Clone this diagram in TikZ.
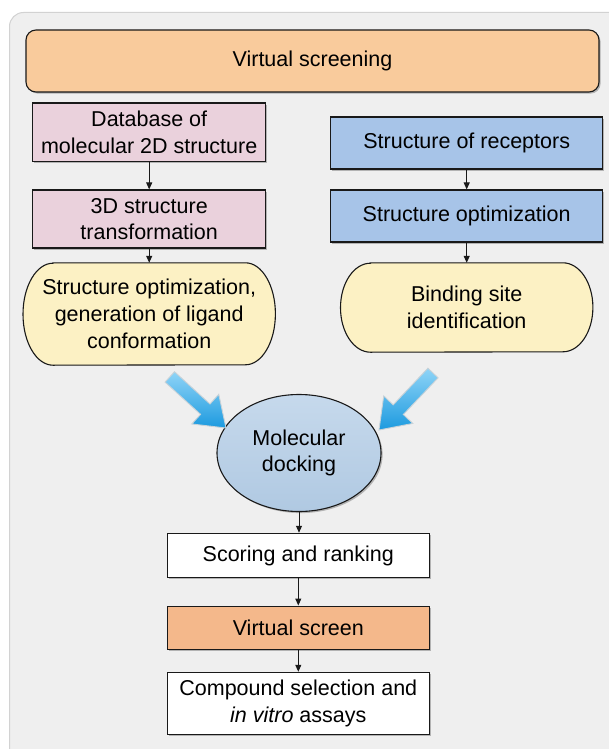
\documentclass[tikz,border=0pt]{standalone}
\usepackage{fontspec}
\setmainfont{Liberation Sans}
\usetikzlibrary{shapes.geometric,arrows.meta,shadows,calc}
\pgfdeclarelayer{panellayer}
\pgfdeclarelayer{bglayer}
\pgfsetlayers{panellayer,bglayer,main}
\definecolor{panelgray}{HTML}{EFEFEF}
\definecolor{panelline}{HTML}{D2D2D2}
\definecolor{peach}{HTML}{F9CB9C}
\definecolor{pinkfill}{HTML}{EAD1DC}
\definecolor{bluefill}{HTML}{A7C4E8}
\definecolor{yellowfill}{HTML}{FCF1C4}
\definecolor{elltop}{HTML}{C6D9EC}
\definecolor{ellbot}{HTML}{B0C9E2}
\definecolor{orangefill}{HTML}{F4B88B}
\definecolor{arrlight}{HTML}{8FD4F7}
\definecolor{arrdark}{HTML}{1C9ADF}
\definecolor{arrline}{HTML}{C8D2D8}
\begin{document}
\begin{tikzpicture}[x=1pt,y=-1pt,
  font=\fontsize{21.5}{26.7}\selectfont,
  boxshadow/.style={drop shadow={shadow xshift=1.6pt,shadow yshift=-1.6pt,fill=black,opacity=.25}},
  box/.style={rectangle, draw=black!90, line width=1.1pt, inner sep=0pt, align=center, boxshadow},
  stadiumtext/.style={rectangle, inner sep=0pt, align=center},
  stadium/.style={fill=yellowfill, draw=black!90, line width=1.1pt},
  conn/.style={draw=black!90, line width=1pt, -{Triangle[length=7pt,width=6pt]}},
  fatarrow/.style={top color=arrlight, bottom color=arrdark, draw=arrline, line width=.9pt, line join=miter}
]
\useasboundingbox (0,0) rectangle (608,749);
\begin{pgfonlayer}{panellayer}
  \fill[white] (0,0) rectangle (608,749);
  \draw[fill=panelgray, draw=panelline, line width=1pt, rounded corners=14pt] (9.5,12.5) rectangle (640,780);
\end{pgfonlayer}

% top box
\node[box, fill=peach, rounded corners=10pt, minimum width=573pt, minimum height=62pt] (vs) at (312.5,61) {Virtual screening};

% left column
\node[box, fill=pinkfill, minimum width=233pt, minimum height=58.7pt] (db) at (149.2,132.4) {Database of\\molecular 2D structure};
\node[box, fill=pinkfill, minimum width=233pt, minimum height=58pt] (td) at (149.2,219) {3D structure\\transformation};
\node[stadiumtext, minimum width=252pt, minimum height=102pt] (so) at (149.2,314) {Structure optimization,\\generation of ligand\\conformation};

% right column
\node[box, fill=bluefill, minimum width=272pt, minimum height=52pt] (sr) at (466.7,143) {Structure of receptors};
\node[box, fill=bluefill, minimum width=272pt, minimum height=52pt] (sopt) at (466.7,216) {Structure optimization};
\node[stadiumtext, minimum width=252pt, minimum height=89pt] (bs) at (466.7,307.5) {Binding site\\identification};

% stadium shapes
\begin{pgfonlayer}{bglayer}
  \foreach \n/\ry in {so/51,bs/44.5}{
    \fill[black, opacity=.2, shift={(1.6,1.6)}] ([xshift=30pt]\n.north west) -- ([xshift=-30pt]\n.north east)
      arc[start angle=90, end angle=-90, x radius=30pt, y radius=\ry pt]
      -- ([xshift=30pt]\n.south west)
      arc[start angle=270, end angle=90, x radius=30pt, y radius=\ry pt] -- cycle;
    \path[stadium] ([xshift=30pt]\n.north west) -- ([xshift=-30pt]\n.north east)
      arc[start angle=90, end angle=-90, x radius=30pt, y radius=\ry pt]
      -- ([xshift=30pt]\n.south west)
      arc[start angle=270, end angle=90, x radius=30pt, y radius=\ry pt] -- cycle;
  }
\end{pgfonlayer}

% center
\node[ellipse, draw=black!90, line width=1.1pt, top color=elltop, bottom color=ellbot, inner sep=0pt,
      minimum width=164pt, minimum height=117pt, align=center, boxshadow] (md) at (299,453) {Molecular\\docking};
\node[box, fill=white, minimum width=262pt, minimum height=44.4pt] (sc) at (298.3,555.5) {Scoring and ranking};
\node[box, fill=orangefill, minimum width=262pt, minimum height=43.3pt] (vsc) at (298.3,627.7) {Virtual screen};
\node[box, fill=white, minimum width=262pt, minimum height=62pt] (cs) at (298.3,703.3) {Compound selection and\\\textit{in vitro} assays};

% connectors
\draw[conn] (db) -- (td);
\draw[conn] (td) -- (so);
\draw[conn] (sr) -- (sopt);
\draw[conn] (sopt) -- (bs);
\draw[conn] (md.south) -- (md.south |- sc.north);
\draw[conn] (sc) -- (vsc);
\draw[conn] (vsc) -- (cs);

% fat blue arrows
\coordinate (lt) at (226,428);
\coordinate (ll) at (169.8,376.9);
\coordinate (lb) at ($(lt)!28pt!(ll)$);
\path[fatarrow] ($(ll)!7pt!90:(lt)$) -- ($(lb)!7pt!90:(lt)$) -- ($(lb)!20pt!90:(lt)$) -- (lt)
  -- ($(lb)!20pt!-90:(lt)$) -- ($(lb)!7pt!-90:(lt)$) -- ($(ll)!7pt!-90:(lt)$) -- cycle;
\coordinate (rt) at (379,430);
\coordinate (rl) at (433,373);
\coordinate (rb) at ($(rt)!28pt!(rl)$);
\path[fatarrow] ($(rl)!7pt!90:(rt)$) -- ($(rb)!7pt!90:(rt)$) -- ($(rb)!20pt!90:(rt)$) -- (rt)
  -- ($(rb)!20pt!-90:(rt)$) -- ($(rb)!7pt!-90:(rt)$) -- ($(rl)!7pt!-90:(rt)$) -- cycle;
\end{tikzpicture}
\end{document}
